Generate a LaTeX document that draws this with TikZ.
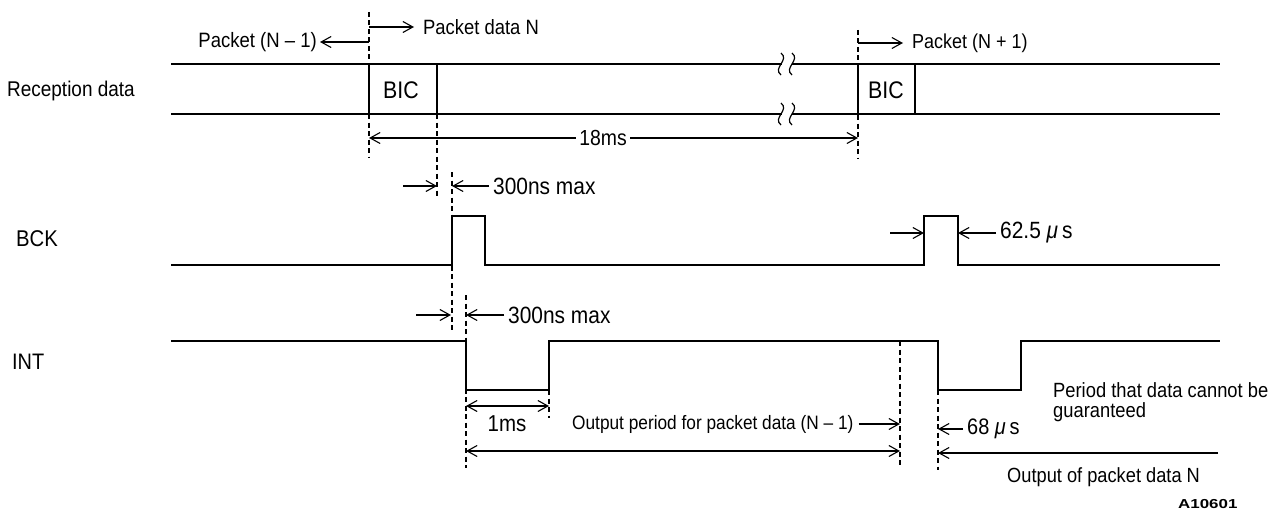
\documentclass[tikz,border=0pt]{standalone}
\usepackage{fontspec}
\usepackage{graphicx}
\setmainfont{Liberation Sans}[FakeStretch=0.89]
\newfontfamily\figfont{Liberation Sans}
\usetikzlibrary{arrows.meta}
\newcommand\fsz[1]{\fontsize{#1}{#1}\selectfont}
\newcommand\mus{{\itshape μ}\,s}
\begin{document}
\begin{tikzpicture}[x=1pt,y=-1pt,
  sig/.style={line width=2.6pt, line join=miter, line cap=rect},
  dim/.style={line width=1.1pt},
  guide/.style={line width=1.1pt, dash pattern=on 5pt off 3.5pt},
  tip/.style={dim, -{Straight Barb[length=10pt,width=11pt]}},
  both/.style={dim, {Straight Barb[length=10pt,width=11pt]}-{Straight Barb[length=10pt,width=11pt]}},
  lbl/.style={inner sep=0pt, anchor=west, font=\fsz{21.3}},
  brk/.style={line width=1.2pt},
]
\useasboundingbox (0,0) rectangle (1287,519);

% ---------- guide lines (dashed) ----------
\draw[guide] (369,12) -- (369,158);
\draw[guide] (437,114) -- (437,196);
\draw[guide] (858,30) -- (858,158);
\draw[guide] (452,172) -- (452,330);
\draw[guide] (466,295) -- (466,468);
\draw[guide] (549,390) -- (549,418);
\draw[guide] (900,341) -- (900,467);
\draw[guide] (938,390) -- (938,470);

% ---------- Reception data ----------
\node[lbl] (rxl) at (7,91) {Reception data};
\draw[sig] (172,64) -- (781,64) (793,64) -- (1219,64);
\draw[sig] (172,114) -- (781,114) (793,114) -- (1219,114);
\foreach \yy in {64,114}{
  \draw[brk] (781,\yy-11) .. controls (790,\yy-4) and (772,\yy+4) .. (781,\yy+11);
  \draw[brk] (792,\yy-11) .. controls (801,\yy-4) and (783,\yy+4) .. (792,\yy+11);
}
\draw[sig] (369,64) -- (369,114) (437,64) -- (437,114);
\draw[sig] (858,64) -- (858,114) (915,64) -- (915,114);
\node[lbl, font=\fsz{24}] (bic1) at (383,90) {BIC};
\node[lbl, font=\fsz{24}] (bic2) at (868,90) {BIC};

\node[lbl, anchor=east, font=\fsz{20.8}] (pnm1) at (317,42) {Packet (N – 1)};
\coordinate (pnm1a) at (369,42);
\draw[tip] (pnm1a) -- ([xshift=3pt]pnm1.east);
\node[lbl, font=\fsz{20.7}] (pdn) at (423,27) {Packet data N};
\coordinate (pdna) at (369,27);
\draw[tip] (pdna) -- ([xshift=-9pt]pdn.west);
\node[lbl, font=\fsz{20.2}] (pnp1) at (912,43) {Packet (N + 1)};
\coordinate (pnp1a) at (858,43);
\draw[tip] (pnp1a) -- ([xshift=-9pt]pnp1.west);

\coordinate (ms18l) at (369,138);
\coordinate (ms18r) at (858,138);
\draw[both] (ms18l) -- (ms18r);
\node[lbl, anchor=center, fill=white, inner xsep=3pt, font=\fsz{21.8}] (ms18) at (603,138) {18ms};

% ---------- BCK ----------
\node[lbl, font=\fsz{22.8}] (bckl) at (16,239) {BCK};
\draw[sig] (172,265) -- (452,265) -- (452,216) -- (485,216) -- (485,265)
  -- (924,265) -- (924,216) -- (958,216) -- (958,265) -- (1219,265);
\coordinate (b3a) at (403,186);
\coordinate (b3b) at (437,186);
\coordinate (b3c) at (452,186);
\node[lbl, font=\fsz{23.5}] (b300) at (493,186) {300ns max};
\draw[tip] (b3a) -- (b3b);
\draw[tip] ([xshift=-4pt]b300.west) -- (b3c);
\coordinate (b6a) at (890,233);
\coordinate (b6b) at (924,233);
\coordinate (b6c) at (958,233);
\node[lbl, font=\fsz{23.5}] (b625) at (1000,233) {62.5 \mus};
\draw[tip] (b6a) -- (b6b);
\draw[tip] ([xshift=-4pt]b625.west) -- (b6c);

% ---------- INT ----------
\node[lbl, font=\fsz{22.4}] (intl) at (12,362) {INT};
\draw[sig] (172,341) -- (466,341) -- (466,390) -- (549,390) -- (549,341)
  -- (938,341) -- (938,390) -- (1021,390) -- (1021,341) -- (1219,341);
\coordinate (i3a) at (416,315);
\coordinate (i3b) at (451,315);
\coordinate (i3c) at (466,315);
\node[lbl, font=\fsz{23.5}] (i300) at (508,315) {300ns max};
\draw[tip] (i3a) -- (i3b);
\draw[tip] ([xshift=-4pt]i300.west) -- (i3c);

\coordinate (ms1l) at (466,406);
\coordinate (ms1r) at (549,406);
\draw[both] (ms1l) -- (ms1r);
\node[lbl, anchor=center, font=\fsz{23}] (ms1) at (507,424) {1ms};

\node[lbl, font=\fsz{19.4}] (opn1) at (572,424) {Output period for packet data (N – 1)};
\coordinate (opn1b) at (900,424);
\draw[tip] ([xshift=5pt]opn1.east) -- (opn1b);
\coordinate (lngl) at (466,451);
\coordinate (lngr) at (900,451);
\draw[both] (lngl) -- (lngr);

\node[lbl, font=\fsz{22.4}] (i68) at (967,429) {68 \mus};
\coordinate (i68b) at (938,429);
\draw[tip] ([xshift=-4pt]i68.west) -- (i68b);

\coordinate (botr) at (1218,453);
\coordinate (botl) at (938,453);
\draw[tip] (botr) -- (botl);

\node[lbl, font=\fsz{20.6}] (pcg1) at (1053,390) {Period that data cannot be};
\node[lbl, font=\fsz{20.6}] (pcg2) at (1053,412) {guaranteed};
\node[lbl, font=\fsz{20.5}] (opdn) at (1007,477) {Output of packet data N};
\node[lbl, font=\figfont\fsz{13}\bfseries] (fig) at (1178,504) {\scalebox{1.3}[1]{A10601}};
\end{tikzpicture}
\end{document}
